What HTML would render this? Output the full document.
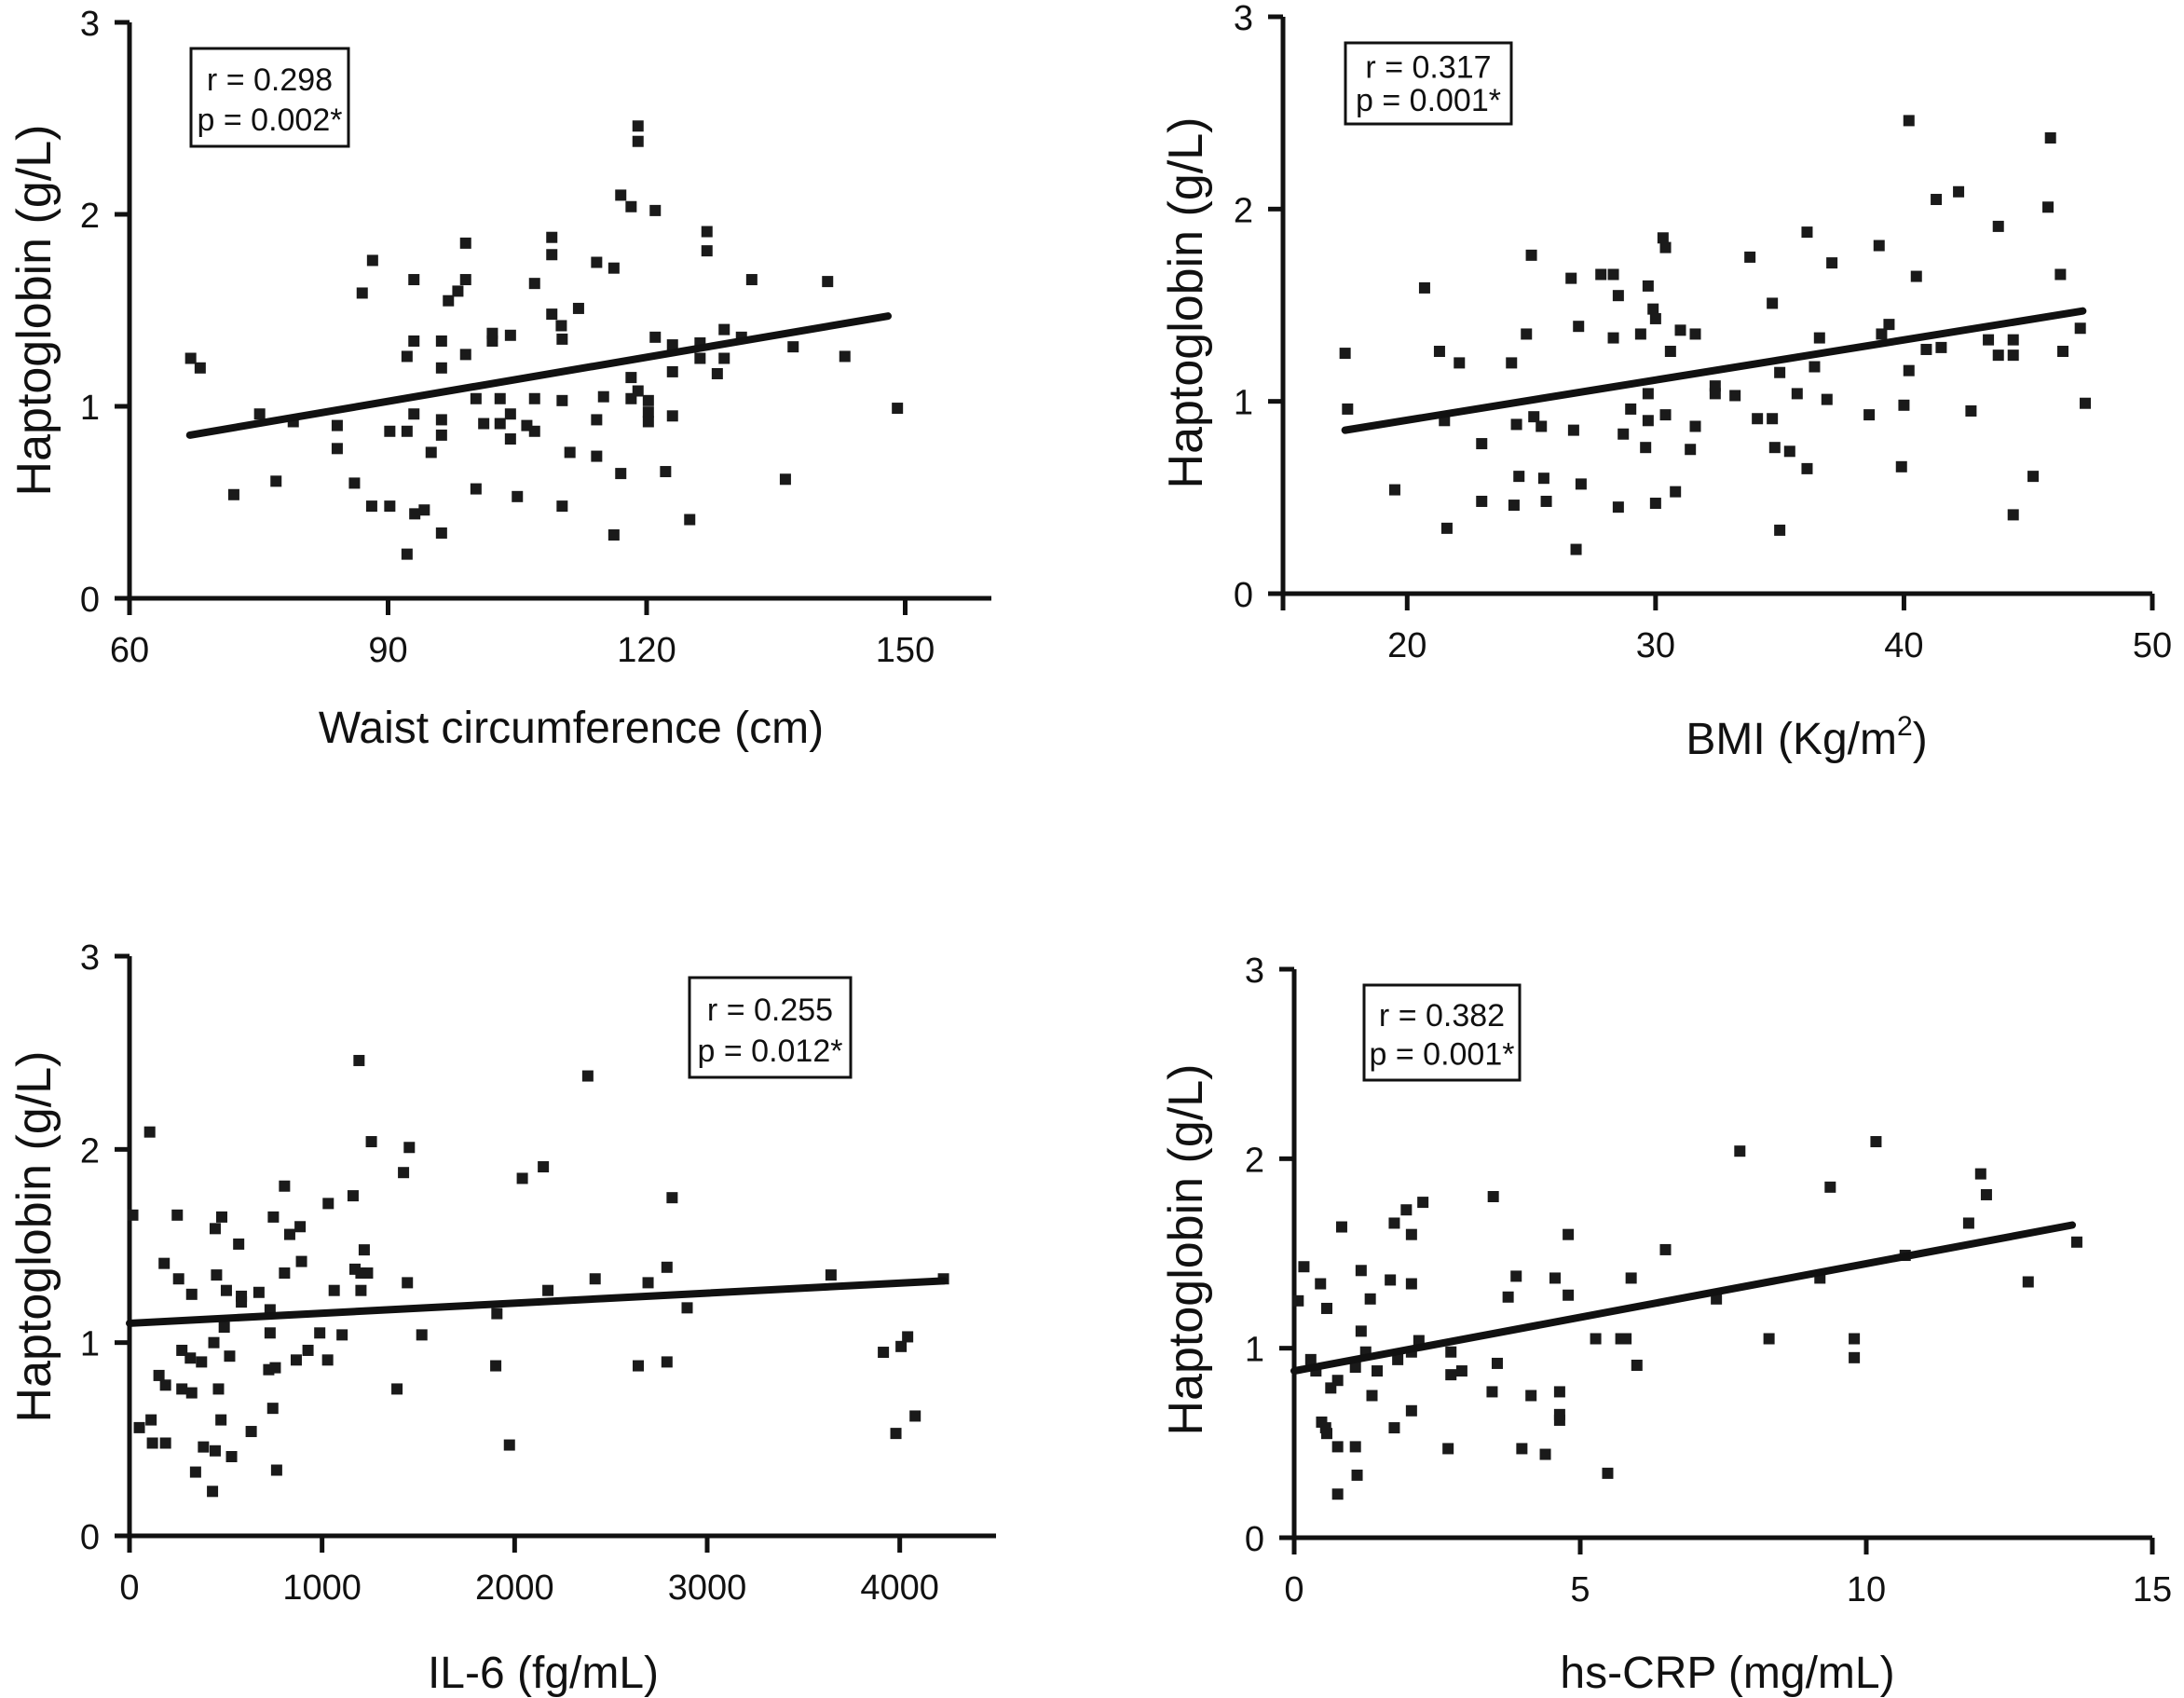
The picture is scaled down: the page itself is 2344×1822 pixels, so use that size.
<!DOCTYPE html>
<html><head><meta charset="utf-8"><style>
html,body{margin:0;padding:0;background:#fff;}
svg{display:block;font-family:"Liberation Sans",Arial,sans-serif;}
</style></head><body>
<svg id="fig" width="2344" height="1822" viewBox="0 0 2344 1822" xmlns="http://www.w3.org/2000/svg"></svg>
<script>
// ---- Panel 1: Waist circumference ----
const p1x = [67.1,68.2,72.1,75.1,77,79,84.1,84.1,86.1,87,88.2,88.1,90.2,90.2,92.2,92.2,92.2,93,93,93,93.1,94.2,95,96.2,96.2,96.2,96.2,96.2,97,98.1,99,99,99,100.2,100.2,101.1,102.1,102.1,103,103,104.2,104.2,104.2,105,106.1,107,107,107,109,109,109,110.1,110.2,110.2,110.2,111.1,112.1,114.2,114.2,114.2,115,116.2,116.2,117,117,118.2,118.2,118.2,119,119,119,120.2,120.2,120.2,121,121,122.2,123,123,123,125,126.2,126.2,127,127,128.2,129,129,131,132.2,136.1,137,141,143,149.1];
const p1y = [1.25,1.2,0.54,0.96,0.61,0.92,0.9,0.78,0.6,1.59,1.76,0.48,0.48,0.87,1.26,0.87,0.23,1.66,1.34,0.96,0.44,0.46,0.76,1.34,1.2,0.93,0.85,0.34,1.55,1.6,1.66,1.85,1.27,1.04,0.57,0.91,1.38,1.34,1.04,0.91,1.37,0.96,0.83,0.53,0.9,1.04,0.87,1.64,1.88,1.79,1.48,1.42,1.35,1.03,0.48,0.76,1.51,1.75,0.93,0.74,1.05,1.72,0.33,2.1,0.65,2.04,1.04,1.15,2.46,2.38,1.08,1.03,0.92,0.97,2.02,1.36,0.66,1.32,1.18,0.95,0.41,1.33,1.25,1.91,1.81,1.17,1.4,1.25,1.36,1.66,0.62,1.31,1.65,1.26,0.99];
const p1Fit = [[67,0.85],[148,1.47]];
const p1XTicks = [60,90,120,150];
// ---- Panel 2: BMI ----
const p2x = [17.5,17.6,19.5,20.7,21.3,21.5,21.6,22.1,23.0,23.0,24.2,24.3,24.4,24.5,24.8,25.0,25.1,25.4,25.5,25.6,26.6,26.7,26.8,26.9,27.0,27.8,28.3,28.3,28.5,28.5,28.7,29.0,29.4,29.7,29.6,29.7,29.7,29.9,30.0,30.0,30.3,30.4,30.4,30.6,30.8,31.0,31.4,31.6,31.6,32.4,32.4,33.2,33.8,34.1,34.7,34.7,35.0,34.8,35.0,35.4,35.7,36.1,36.1,36.4,36.6,36.9,37.1,38.6,39.0,39.1,39.4,40.0,39.9,40.2,40.2,40.5,40.9,41.3,41.5,42.2,42.7,43.4,43.8,43.8,44.4,44.4,44.4,45.2,45.9,45.8,46.3,46.4,47.1,47.3];
const p2y = [1.25,0.96,0.54,1.59,1.26,0.9,0.34,1.2,0.78,0.48,1.2,0.46,0.88,0.61,1.35,1.76,0.92,0.87,0.6,0.48,1.64,0.85,0.23,1.39,0.57,1.66,1.66,1.33,1.55,0.45,0.83,0.96,1.35,1.6,0.76,0.9,1.04,1.48,1.43,0.47,1.85,1.8,0.93,1.26,0.53,1.37,0.75,1.35,0.87,1.08,1.04,1.03,1.75,0.91,1.51,0.91,1.15,0.76,0.33,0.74,1.04,1.88,0.65,1.18,1.33,1.01,1.72,0.93,1.81,1.35,1.4,0.98,0.66,2.46,1.16,1.65,1.27,2.05,1.28,2.09,0.95,1.32,1.91,1.24,1.32,1.24,0.41,0.61,2.37,2.01,1.66,1.26,1.38,0.99];
const p2Fit = [[17.5,0.85],[47.2,1.47]];
const p2XTicks = [20,30,40,50];
// ---- Panel 3: IL-6 ----
const p3x = [17,51,112,105,119,153,180,187,187,248,255,272,272,316,323,323,343,374,384,431,438,445,445,452,462,475,479,492,503,520,530,567,581,581,632,672,747,730,730,723,744,757,764,805,805,832,886,866,893,927,988,1029,1032,1063,1104,1161,1171,1192,1202,1202,1219,1236,1256,1389,1423,1443,1453,1518,1902,1908,1973,2040,2149,2173,2380,2418,2642,2693,2791,2791,2818,2896,3643,3915,3980,4007,4041,4080,4227];
const p3y = [1.66,0.56,0.6,2.09,0.48,0.83,1.41,0.48,0.78,1.66,1.33,0.96,0.76,0.92,1.25,0.74,0.33,0.9,0.46,0.23,1.0,0.44,1.59,1.35,0.76,0.6,1.65,1.08,1.27,0.93,0.41,1.51,1.24,1.21,0.54,1.26,1.65,1.17,1.05,0.86,0.66,0.87,0.34,1.81,1.36,1.56,1.6,0.91,1.42,0.96,1.05,0.91,1.72,1.27,1.04,1.76,1.38,2.46,1.36,1.27,1.48,1.36,2.04,0.76,1.88,1.31,2.01,1.04,0.88,1.15,0.47,1.85,1.91,1.27,2.38,1.33,0.88,1.31,1.39,0.9,1.75,1.18,1.35,0.95,0.53,0.98,1.03,0.62,1.33];
const p3Fit = [[0,1.1],[4230,1.32]];
const p3XTicks = [0,1000,2000,3000,4000];
// ---- Panel 4: hs-CRP ----
const p4x = [0.07,0.17,0.29,0.38,0.46,0.48,0.55,0.57,0.57,0.64,0.76,0.76,0.76,0.83,1.07,1.10,1.07,1.17,1.17,1.25,1.33,1.36,1.45,1.68,1.75,1.75,1.81,1.96,2.05,2.05,2.05,2.05,2.18,2.25,2.69,2.74,2.74,2.93,3.48,3.46,3.55,3.74,3.88,3.98,4.14,4.39,4.56,4.64,4.64,4.64,4.79,4.79,5.27,5.48,5.71,5.8,5.89,5.99,6.49,7.38,7.79,8.3,9.19,9.37,9.79,9.79,10.17,10.68,11.79,12.0,12.1,12.83,13.68];
const p4y = [1.25,1.43,0.94,0.88,1.34,0.61,0.58,1.21,0.55,0.79,0.48,0.23,0.83,1.64,0.48,0.33,0.9,1.41,1.09,0.98,1.26,0.75,0.88,1.36,0.58,1.66,0.94,1.73,1.6,1.34,0.67,0.98,1.04,1.77,0.47,0.98,0.86,0.88,1.8,0.77,0.92,1.27,1.38,0.47,0.75,0.44,1.37,0.77,0.65,0.62,1.6,1.28,1.05,0.34,1.05,1.05,1.37,0.91,1.52,1.26,2.04,1.05,1.37,1.85,1.05,0.95,2.09,1.49,1.66,1.92,1.81,1.35,1.56];
const p4Fit = [[0,0.88],[13.6,1.65]];
const p4XTicks = [0,5,10,15];
const yTicks = [0,1,2,3];

const NS = 'http://www.w3.org/2000/svg';
const svg = document.getElementById('fig');
function mk(tag, attrs, parent){
  const e = document.createElementNS(NS, tag);
  for (const k in attrs) e.setAttribute(k, attrs[k]);
  (parent||svg).appendChild(e);
  return e;
}

const panels = [
  {id:'waist', xs:p1x, ys:p1y, fit:p1Fit, ticks:p1XTicks, x0px:139, xEnd:1064, xmin:60, xmax:160, y0px:642, y3px:24,
   title:'Waist circumference (cm)', sup:null, tx:613, ty:797, ytx:54, yty:333,
   box:[205,52,169,105], r:'r = 0.298', p:'p = 0.002*'},
  {id:'bmi', xs:p2x, ys:p2y, fit:p2Fit, ticks:p2XTicks, x0px:1377, xEnd:2310, xmin:15, xmax:50, y0px:637, y3px:18,
   title:'BMI (Kg/m', sup:'2', tx:1939, ty:809, ytx:1290, yty:325,
   box:[1444,46,178,87], r:'r = 0.317', p:'p = 0.001*'},
  {id:'il6', xs:p3x, ys:p3y, fit:p3Fit, ticks:p3XTicks, x0px:139, xEnd:1069, xmin:0, xmax:4500, y0px:1648, y3px:1026,
   title:'IL-6 (fg/mL)', sup:null, tx:583, ty:1811, ytx:54, yty:1327,
   box:[740,1049,173,107], r:'r = 0.255', p:'p = 0.012*'},
  {id:'hscrp', xs:p4x, ys:p4y, fit:p4Fit, ticks:p4XTicks, x0px:1389, xEnd:2310, xmin:0, xmax:15, y0px:1650, y3px:1040,
   title:'hs-CRP (mg/mL)', sup:null, tx:1854, ty:1811, ytx:1290, yty:1341,
   box:[1464,1057,167,102], r:'r = 0.382', p:'p = 0.001*'}
];

panels.forEach(P => {
  const g = mk('g', {});
  
  
  const sx = v => P.x0px + (v - P.xmin) / (P.xmax - P.xmin) * (P.xEnd - P.x0px);
  const sy = v => P.y0px - v / 3 * (P.y0px - P.y3px);

  const ya = mk('line', {x1:P.x0px, y1:P.y3px, x2:P.x0px, y2:P.y0px+18, stroke:'#111', 'stroke-width':5}, g);
  
  
  const xa = mk('line', {x1:P.x0px-16, y1:P.y0px, x2:P.xEnd, y2:P.y0px, stroke:'#111', 'stroke-width':5}, g);
  
  

  yTicks.forEach(t => {
    const y = sy(t);
    mk('line', {x1:P.x0px-16, y1:y, x2:P.x0px, y2:y, stroke:'#111', 'stroke-width':5}, g);
    const tl = mk('text', {x:P.x0px-32, y:y+14, 'font-size':38, 'text-anchor':'end', fill:'#111'}, g);
    tl.textContent = t;
    
    
  });
  P.ticks.forEach(t => {
    const x = sx(t);
    mk('line', {x1:x, y1:P.y0px, x2:x, y2:P.y0px+18, stroke:'#111', 'stroke-width':5}, g);
    const tl = mk('text', {x:x, y:P.y0px+68, 'font-size':38, 'text-anchor':'middle', fill:'#111'}, g);
    tl.textContent = t;
    
    
  });

  const xt = mk('text', {x:P.tx, y:P.ty, 'font-size':48, 'text-anchor':'middle', fill:'#111'}, g);
  
  
  xt.appendChild(document.createTextNode(P.title));
  if (P.sup) {
    const s = mk('tspan', {'font-size':30, dy:-20}, xt);
    s.textContent = P.sup;
    const s2 = mk('tspan', {dy:20}, xt);
    s2.textContent = ')';
  }
  const yt = mk('text', {x:P.ytx, y:P.yty, 'font-size':52, 'text-anchor':'middle', fill:'#111',
    transform:'rotate(-90 ' + P.ytx + ' ' + P.yty + ')'}, g);
  yt.textContent = 'Haptoglobin (g/L)';
  
  

  P.xs.forEach((v, i) => {
    const r = mk('rect', {x:sx(v)-6, y:sy(P.ys[i])-6, width:12, height:12, fill:'#1a1a1a'}, g);
    
    
  });
  const ln = mk('line', {x1:sx(P.fit[0][0]), y1:sy(P.fit[0][1]), x2:sx(P.fit[1][0]), y2:sy(P.fit[1][1]),
    stroke:'#111', 'stroke-width':8, 'stroke-linecap':'round'}, g);
  
  

  const b = P.box;
  const bg = mk('g', {}, g);
  
  
  mk('rect', {x:b[0], y:b[1], width:b[2], height:b[3], fill:'#fff', stroke:'#111', 'stroke-width':3}, bg);
  const cx = b[0] + b[2]/2;
  const t1 = mk('text', {x:cx, y:b[1] + b[3]*0.43, 'font-size':34, 'text-anchor':'middle', fill:'#111'}, bg);
  t1.textContent = P.r;
  
  
  const t2 = mk('text', {x:cx, y:b[1] + b[3]*0.84, 'font-size':34, 'text-anchor':'middle', fill:'#111'}, bg);
  t2.textContent = P.p;
  
  
});
</script>
</body></html>
